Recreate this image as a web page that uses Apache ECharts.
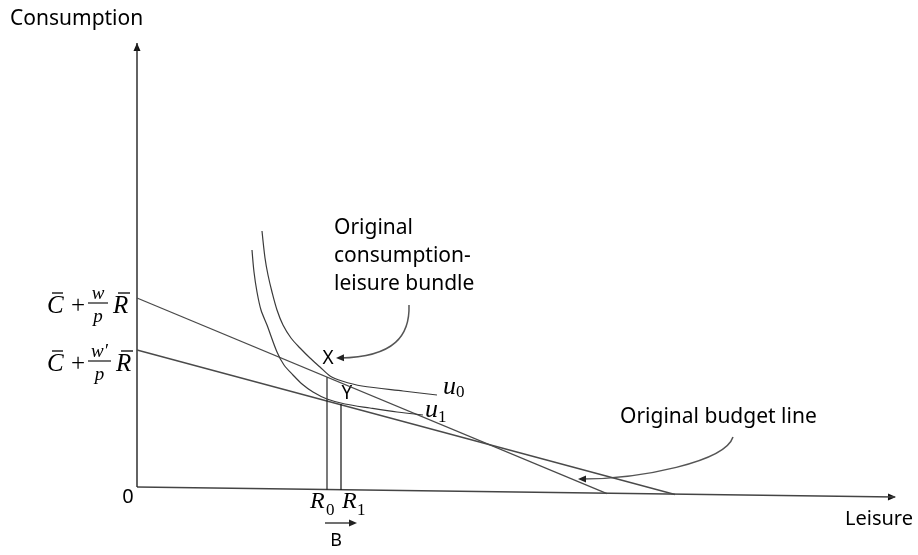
<!DOCTYPE html>
<html lang="en">

<head>
  <meta charset="UTF-8">
  <title>Consumption-leisure</title>
  <script src="https://cdn.jsdelivr.net/npm/echarts@6/dist/echarts.min.js"></script>
  <style>
    html, body { margin: 0; padding: 0; background: #fff; }
    #chart { width: 918px; height: 555px; }
  </style>
</head>

<body>
  <div id="chart"></div>
  <script>
    // data units: leisure (x) and consumption (y)
    const xAxisLine = [[0, 0], [75.8, -1.0]]
    const yAxisLine = [[0, 0], [0, 44.4]]
    const budgetOriginal = [[0, 18.9], [47.0, -0.66]]
    const budgetNew = [[0, 13.7], [53.8, -0.75]]
    const u0Curve = [[12.5, 25.6], [12.8, 22.9], [13.1, 21.2], [13.5, 19.5], [14.0, 17.7], [14.6, 16.2],
      [15.4, 14.9], [16.3, 13.9], [17.3, 12.9], [18.3, 12.0], [19.3, 11.1], [20.5, 10.6], [22.5, 10.1],
      [26.6, 9.6], [30.0, 9.2]]
    const u1Curve = [[11.5, 23.7], [11.7, 21.5], [12.0, 19.5], [12.4, 17.7], [13.0, 16.2], [14.0, 13.5],
      [14.7, 12.2], [15.6, 11.2], [16.5, 10.3], [17.6, 9.5], [19.0, 8.8], [20.8, 8.3], [23.3, 7.9],
      [26.0, 7.5], [28.6, 7.2]]
    const r0Line = [[19.0, -0.27], [19.0, 10.98]]
    const r1Line = [[20.4, -0.29], [20.4, 8.3]]

    const axisNames = ['Consumption', 'Leisure']
    const bundleNote = ['Original', 'consumption-', 'leisure bundle']
    const budgetNote = 'Original budget line'

    const sans = '"Noto Sans", sans-serif'
    const serif = '"Liberation Serif", serif'

    function txt(text, x, y, size, opts) {
      opts = opts || {}
      const align = opts.align || 'left'
      return {
        type: 'text',
        silent: true,
        style: {
          text: text, x: x, y: y,
          font: (opts.italic ? 'italic ' : '') + size + 'px ' + (opts.family || sans),
          fill: opts.color || '#000',
          align: align, textAlign: align,
          verticalAlign: 'middle', textVerticalAlign: 'middle'
        }
      }
    }

    function seg(x1, y1, x2, y2, w, color) {
      return {
        type: 'line', silent: true,
        shape: { x1: x1, y1: y1, x2: x2, y2: y2 },
        style: { stroke: color || '#000', lineWidth: w || 1 }
      }
    }

    function head(tx, ty, dx, dy, color) {
      const len = Math.sqrt(dx * dx + dy * dy)
      const ux = dx / len, uy = dy / len
      const bx = tx - ux * 8, by = ty - uy * 8
      return {
        type: 'polygon', silent: true,
        shape: { points: [[tx, ty], [bx - uy * 3.5, by + ux * 3.5], [bx + uy * 3.5, by - ux * 3.5]] },
        style: { fill: color }
      }
    }

    function curveArrow(p0, c1, c2, p3) {
      return [{
        type: 'bezierCurve', silent: true,
        shape: { x1: p0[0], y1: p0[1], cpx1: c1[0], cpy1: c1[1], cpx2: c2[0], cpy2: c2[1], x2: p3[0] + 4, y2: p3[1] },
        style: { stroke: '#555', lineWidth: 1.5, fill: null }
      }, head(p3[0], p3[1], p3[0] - c2[0], p3[1] - c2[1], '#222')]
    }

    // C-bar + (num/p) R-bar
    function budgetLabel(y, num, wide) {
      const e = []
      e.push(txt('C', 47, y, 25, { italic: true, family: serif }))
      e.push(seg(52, y - 13, 63, y - 13, 1.3))
      e.push(txt('+', 78, y, 25, { align: 'center', family: serif }))
      e.push(txt(num, 98 + wide / 2, y - 12, 19, { italic: true, family: serif, align: 'center' }))
      e.push(seg(88, y - 3, 108 + wide, y - 3, 1.1))
      e.push(txt('p', 98 + wide / 2, y + 11, 19, { italic: true, family: serif, align: 'center' }))
      e.push(txt('R', 113 + wide, y, 25, { italic: true, family: serif }))
      e.push(seg(118 + wide, y - 13, 130 + wide, y - 13, 1.3))
      return e
    }

    const graphics = [].concat(
      txt(axisNames[0], 10, 19, 21),
      txt(axisNames[1], 845, 519, 20),
      txt('0', 128, 497, 20, { align: 'center' }),
      txt(bundleNote[0], 334, 228, 21),
      txt(bundleNote[1], 334, 256, 21),
      txt(bundleNote[2], 334, 284, 21),
      txt(budgetNote, 620, 417, 21),
      txt('X', 328, 359, 19, { align: 'center' }),
      txt('Y', 347, 394, 19, { align: 'center' }),
      txt('u', 443, 387, 26, { italic: true, family: serif }),
      txt('0', 456, 393, 17, { family: serif }),
      txt('u', 425, 410, 26, { italic: true, family: serif }),
      txt('1', 438, 418, 17, { family: serif }),
      txt('R', 310, 502, 24, { italic: true, family: serif }),
      txt('0', 326, 511, 17, { family: serif }),
      txt('R', 342, 502, 24, { italic: true, family: serif }),
      txt('1', 357, 511, 17, { family: serif }),
      txt('B', 336, 541, 18, { align: 'center' }),
      seg(325, 523, 350, 523, 1.3, '#222'),
      head(357, 523, 1, 0, '#222'),
      budgetLabel(306, 'w', 0),
      budgetLabel(364, 'w\u2032', 3),
      curveArrow([409, 305], [410, 335], [395, 357], [336, 358]),
      curveArrow([733, 437], [725, 462], [640, 479], [578, 479]),
      // axis arrowheads
      head(137, 43, 0, -1, '#111'),
      head(896, 497, 1, 0.012, '#111')
    )

    function plain(data, color, width) {
      return {
        type: 'line', data: data, symbol: 'none', silent: true,
        lineStyle: { color: color, width: width }
      }
    }

    function smoothCurve(data) {
      return {
        type: 'line', data: data, symbol: 'none', silent: true,
        smooth: 0.3,
        lineStyle: { color: '#3a3a3a', width: 1.2 }
      }
    }

    const chart = echarts.init(document.getElementById('chart'))
    chart.setOption({
      animation: false,
      backgroundColor: '#fff',
      grid: { left: 137, right: 0, top: 0, bottom: 0 },
      xAxis: { type: 'value', min: 0, max: 78.1, show: false },
      yAxis: { type: 'value', min: -6.8, max: 48.7, show: false },
      series: [
        plain(xAxisLine, '#444', 1.4),
        plain(yAxisLine, '#222', 1.4),
        plain(budgetOriginal, '#4a4a4a', 1.3),
        plain(budgetNew, '#4a4a4a', 1.3),
        plain(r0Line, '#222', 1.2),
        plain(r1Line, '#111', 1.2),
        smoothCurve(u0Curve),
        smoothCurve(u1Curve)
      ],
      graphic: { elements: graphics }
    })
  </script>
</body>

</html>
